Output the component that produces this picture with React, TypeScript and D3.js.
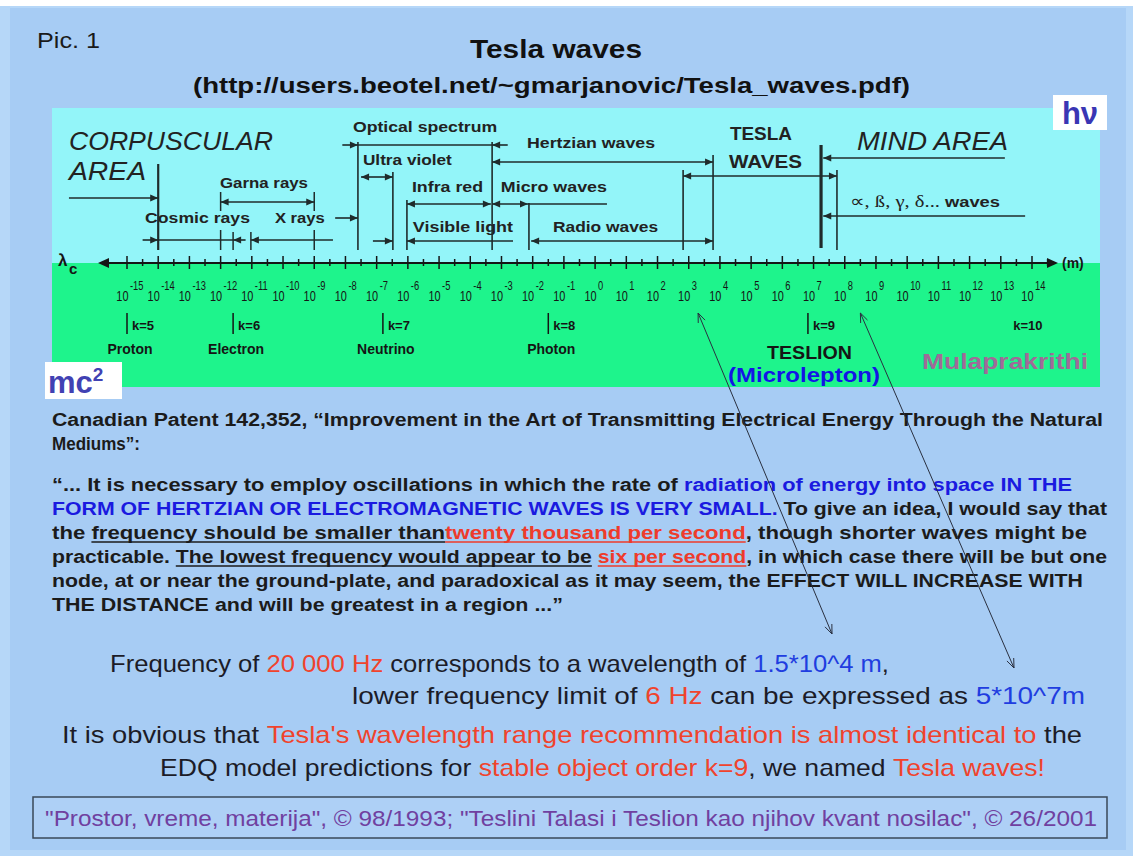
import React from 'react';
import * as d3 from 'd3';

const W = 1133;
const H = 856;
const FONT = 'Liberation Sans';
const SANS = 'Liberation Sans, Arial, Helvetica, sans-serif';
const SERIF = 'Liberation Serif, Times New Roman, serif';

// ---- data: wavelength axis (decades of metres) ----
const DECADES = d3.range(-15, 15); // 10^-15 ... 10^14
const HALF_TICKS = d3.range(-14.5, 14.6, 1);

// stable object orders k along the axis (decade position)
const K_MARKERS = [
  { k: 'k=5', d: -15, name: 'Proton', bar: true },
  { k: 'k=6', d: -11.6, name: 'Electron', bar: true },
  { k: 'k=7', d: -6.8, name: 'Neutrino', bar: true },
  { k: 'k=8', d: -1.5, name: 'Photon', bar: true },
  { k: 'k=9', d: 6.82, name: '', bar: true },
  { k: 'k=10', d: 13.4, name: '', bar: false },
];

// dimension segments: [fromDecade, toDecade, row y, arrow at from, arrow at to]
const SEGMENTS: [number, number, number, boolean, boolean][] = [
  [-16.86, -14, 198, false, true], // corpuscular area
  [-12, -9, 202, true, true], // gamma rays
  [-14.5, -14, 240, false, true],
  [-14, -11.6, 240, false, false], // cosmic rays
  [-11.6, -11.2, 240, true, false],
  [-11.03, -8.4, 240, true, false], // x rays
  [-8.33, -7.6, 218, false, true],
  [-8.1, -7.6, 145, false, true], // optical spectrum
  [-7.6, -3.3, 145, false, false],
  [-3.3, -2.8, 145, true, false],
  [-3.3, 3.78, 162, true, true], // hertzian waves
  [-7.5, -6.48, 177, true, true], // ultra violet
  [2.82, 7.75, 176, true, true], // tesla waves
  [-6.03, -3.34, 204, true, true], // infra red
  [-3.3, -2.15, 204, true, true], // micro waves
  [-2.15, 0.38, 204, false, false],
  [-7.12, -6.48, 241, false, true], // visible light
  [-6.03, -2.63, 241, true, false],
  [-2.05, 3.78, 241, true, true], // radio waves
  [7.31, 13.13, 158, true, false], // mind area
  [7.31, 13.78, 216, true, false], // alpha.. waves
];

// vertical boundaries: [decade, y1, y2, width]
const BOUNDARIES: [number, number, number, number][] = [
  [-14, 164, 250, 2.2],
  [-12, 192, 211, 1.5],
  [-9, 192, 211, 1.5],
  [-12, 230, 250, 1.5],
  [-11.6, 232, 250, 1.5],
  [-11.03, 232, 250, 1.5],
  [-9, 230, 250, 1.5],
  [-7.6, 142, 250, 1.6],
  [-6.48, 172, 250, 1.6],
  [-6.03, 200, 250, 1.6],
  [-3.3, 142, 250, 1.6],
  [-2.12, 203, 250, 1.6],
  [2.82, 170, 250, 1.6],
  [3.78, 155, 250, 1.6],
  [7.24, 145, 248, 3.2],
  [7.75, 170, 250, 1.6],
];

// band labels: [text, fromDecade, toDecade, baseline y, size]
const BAND_LABELS: [string, number, number, number, number][] = [
  ['Garna rays', -12.02, -9.2, 188, 15],
  ['Cosmic rays', -14.42, -11.06, 223, 15],
  ['X rays', -10.26, -8.66, 223, 15],
  ['Optical spectrum', -7.76, -3.14, 132, 15],
  ['Ultra violet', -7.44, -4.59, 165, 15],
  ['Infra red', -5.87, -3.59, 192, 15],
  ['Micro waves', -3.02, 0.38, 192, 15],
  ['Visible light', -5.84, -2.63, 232, 15],
  ['Radio waves', -1.35, 2.02, 232, 15],
  ['Hertzian waves', -2.18, 1.92, 148, 15],
  ['TESLA', 4.32, 6.31, 140, 19],
  ['WAVES', 4.29, 6.63, 168, 19],
];

// long pointer lines from text to axis: [axis decade, end x, end y]
const POINTERS: [number, number, number][] = [
  [3.3, 832, 634],
  [8.5, 1014, 668],
];

type Seg = [string, string];
type Line = { y: number; x1: number; x2: number; segs: Seg[] };

const PARAGRAPH: Line[] = [
  { y: 426, x1: 52, x2: 1103, segs: [['Canadian Patent 142,352, \u201cImprovement in the Art of Transmitting Electrical Energy Through the Natural', 'k']] },
  { y: 450, x1: 52, x2: 140, segs: [['Mediums\u201d:', 'k']] },
  { y: 491, x1: 52, x2: 1072, segs: [['\u201c... It is necessary to employ oscillations in which the rate of ', 'k'], ['radiation of energy into space IN THE', 'b']] },
  { y: 515, x1: 52, x2: 1107, segs: [['FORM OF HERTZIAN OR ELECTROMAGNETIC WAVES IS VERY SMALL.', 'b'], [' To give an idea, I would say that', 'k']] },
  { y: 539, x1: 52, x2: 1087, segs: [['the ', 'k'], ['frequency should be smaller than', 'kU'], ['twenty thousand per second', 'rU'], [', though shorter waves might be', 'k']] },
  { y: 563, x1: 52, x2: 1107, segs: [['practicable. ', 'k'], ['The lowest frequency would appear to be', 'kU'], [' ', 'k'], ['six per second', 'rU'], [', in which case there will be but one', 'k']] },
  { y: 587, x1: 52, x2: 1083, segs: [['node, at or near the ground-plate, and paradoxical as it may seem, the EFFECT WILL INCREASE WITH', 'k']] },
  { y: 611, x1: 52, x2: 563, segs: [['THE DISTANCE and will be greatest in a region ...\u201d', 'k']] },
];

const CONCLUSION: Line[] = [
  { y: 672, x1: 110, x2: 889, segs: [['Frequency of ', 'k'], ['20 000 Hz', 'r'], [' corresponds to a wavelength of ', 'k'], ['1.5*10^4 m', 'b'], [',', 'k']] },
  { y: 704, x1: 352, x2: 1085, segs: [['lower frequency limit of ', 'k'], ['6 Hz', 'r'], [' can be expressed as ', 'k'], ['5*10^7m', 'b']] },
  { y: 743, x1: 62, x2: 1082, segs: [['It is obvious that ', 'k'], ["Tesla's wavelength range recommendation is almost identical to", 'r'], [' the', 'k']] },
  { y: 776, x1: 160, x2: 1045, segs: [['EDQ model predictions for ', 'k'], ['stable object order k=9', 'r'], [', we named ', 'k'], ['Tesla waves!', 'r']] },
];

const COLORS: Record<string, string> = { k: '#1b1b1b', b: '#1a1ae0', r: '#ee3b2b' };
const CONC_COLORS: Record<string, string> = { k: '#1c1c28', b: '#1f3de0', r: '#f0432d' };

const x = d3.scaleLinear().domain([-15, 14]).range([127, 1032]);

const AXIS_Y = 263;
const INK = '#1f2b2b';

let _ctx: CanvasRenderingContext2D | null = null;
function measure(text: string, font: string) {
  if (!_ctx) _ctx = document.createElement('canvas').getContext('2d');
  if (!_ctx) return text.length * 8;
  _ctx.font = font;
  return _ctx.measureText(text).width;
}

function head(tip: number, y: number, dir: number, size = 8, half = 3.6) {
  return `M${tip},${y}L${tip - dir * size},${y - half}L${tip - dir * size},${y + half}Z`;
}

function Txt(props: {
  x1: number; x2: number; y: number; t: string; size: number;
  weight?: string; fill?: string; italic?: boolean; family?: string; ul?: boolean;
}) {
  const { x1, x2, y, t, size, weight = 'bold', fill = '#1b1b1b', italic = false, family = SANS, ul = false } = props;
  return (
    <g>
      <text
        x={x1}
        y={y}
        textLength={x2 - x1}
        lengthAdjust="spacingAndGlyphs"
        fontSize={size}
        fontWeight={weight}
        fontStyle={italic ? 'italic' : 'normal'}
        fill={fill}
        fontFamily={family}
      >
        {t}
      </text>
      {ul && <line x1={x1} x2={x2} y1={y + 3} y2={y + 3} stroke={fill} strokeWidth={1.3} />}
    </g>
  );
}

function FlowLine(props: { line: Line; size: number; weight: string; colors: Record<string, string>; id: string }) {
  const { line, size, weight, colors, id } = props;
  const font = `${weight} ${size}px "${FONT}"`;
  const full = line.segs.map((s) => s[0]).join('');
  const k = (line.x2 - line.x1) / measure(full, font);
  let prefix = '';
  const out: React.ReactNode[] = [];
  line.segs.forEach(([t, st], j) => {
    const lead = t.length - t.trimStart().length;
    const core = t.trim();
    if (core.length) {
      const sx = line.x1 + measure(prefix + t.slice(0, lead), font) * k;
      const w = measure(core, font) * k;
      out.push(
        <Txt key={id + j} x1={sx} x2={sx + w} y={line.y} t={core} size={size} weight={weight} fill={colors[st[0]]} ul={st.length > 1} />
      );
    }
    prefix += t;
  });
  return <g>{out}</g>;
}

function openHead(tx: number, ty: number, fx: number, fy: number) {
  const a = Math.atan2(ty - fy, tx - fx);
  const L = 10, s = 0.38;
  const p1 = [tx - L * Math.cos(a - s), ty - L * Math.sin(a - s)];
  const p2 = [tx - L * Math.cos(a + s), ty - L * Math.sin(a + s)];
  return `M${p1[0]},${p1[1]}L${tx},${ty}L${p2[0]},${p2[1]}`;
}

export default function App() {
  return (
    <svg
      width={W}
      height={H}
      viewBox={`0 0 ${W} ${H}`}
      style={{ position: 'absolute', left: 0, top: 0, display: 'block' }}
    >
      {/* page background */}
      <rect x={0} y={0} width={W} height={H} fill="#ffffff" />
      <rect x={0} y={6} width={W} height={H - 6} fill="#b6d7f8" />
      <rect x={10} y={8} width={1116} height={842} fill="#a7ccf4" />

      {/* header */}
      <Txt x1={37} x2={100} y={48} t="Pic. 1" size={22} weight="normal" fill="#1a1a1a" />
      <Txt x1={470} x2={642} y={58} t="Tesla waves" size={25} fill="#111" />
      <Txt x1={193} x2={910} y={93} t="(http://users.beotel.net/~gmarjanovic/Tesla_waves.pdf)" size={22} fill="#111" />

      {/* diagram backgrounds */}
      <rect x={52} y={108} width={1048} height={155} fill="#93f5f9" />
      <rect x={52} y={263} width={1048} height={124} fill="#1ef48c" />

      {/* hv box */}
      <rect x={1053} y={95} width={54} height={35} fill="#ffffff" />
      <text x={1080} y={124} textAnchor="middle" fontFamily={SANS} fontSize={31} fontWeight="bold" fill="#3a36b4">h{'\u03bd'}</text>

      {/* mc2 box */}
      <rect x={45} y={362} width={77} height={37} fill="#ffffff" />
      <text x={48} y={393} fontFamily={SANS} fontSize={31} fontWeight="bold" fill="#4141b3">
        mc<tspan fontSize={19} dy={-12}>2</tspan>
      </text>

      {/* area titles */}
      <Txt x1={69} x2={273} y={150} t="CORPUSCULAR" size={25} weight="normal" italic fill="#222" />
      <Txt x1={69} x2={146} y={180} t="AREA" size={25} weight="normal" italic fill="#222" />
      <Txt x1={857} x2={1008} y={150} t="MIND AREA" size={25} weight="normal" italic fill="#222" />
      <Txt x1={850} x2={940} y={207} t={'\u221d, \u00df, \u03b3, \u03b4...'} size={17} weight="normal" family={SERIF} fill="#222" />
      <Txt x1={945} x2={1000} y={207} t="waves" size={14} fill="#222" />

      {/* band labels */}
      {BAND_LABELS.map(([t, d1, d2, y, s], i) => (
        <Txt key={i} x1={x(d1)} x2={x(d2)} y={y} t={t} size={s} fill="#222" />
      ))}

      {/* boundaries */}
      {BOUNDARIES.map(([d, y1, y2, w], i) => (
        <line key={i} x1={x(d)} x2={x(d)} y1={y1} y2={y2} stroke={INK} strokeWidth={w} />
      ))}

      {/* dimension segments */}
      {SEGMENTS.map(([d1, d2, y, hf, ht], i) => (
        <g key={i}>
          <line x1={x(d1)} x2={x(d2)} y1={y} y2={y} stroke={INK} strokeWidth={1.6} />
          {hf && <path d={head(x(d1), y, -1)} fill={INK} />}
          {ht && <path d={head(x(d2), y, 1)} fill={INK} />}
        </g>
      ))}

      {/* axis */}
      <line x1={100} x2={1056} y1={AXIS_Y} y2={AXIS_Y} stroke="#151515" strokeWidth={2} />
      <path d={head(98, AXIS_Y, -1, 11, 5)} fill="#151515" />
      <path d={head(1058, AXIS_Y, 1, 11, 5)} fill="#151515" />
      {DECADES.map((d) => (
        <line key={'M' + d} x1={x(d)} x2={x(d)} y1={AXIS_Y - 7} y2={AXIS_Y + 6} stroke="#151515" strokeWidth={1.5} />
      ))}
      {HALF_TICKS.map((d) => (
        <line key={'m' + d} x1={x(d)} x2={x(d)} y1={AXIS_Y - 4} y2={AXIS_Y + 3} stroke="#151515" strokeWidth={1.5} />
      ))}
      {DECADES.map((d) => (
        <g key={'L' + d} fontFamily={SANS} fill="#151515">
          <text transform={`translate(${x(d) + 1.5},301) scale(0.78,1)`} textAnchor="end" fontSize={14}>10</text>
          <text transform={`translate(${x(d) + 3},290) scale(0.78,1)`} fontSize={12}>{d}</text>
        </g>
      ))}
      <text x={58} y={266} fontFamily={SANS} fontSize={17} fontWeight="bold" fill="#151515">{'\u03bb'}</text>
      <text x={69} y={274} fontFamily={SANS} fontSize={15} fontWeight="bold" fill="#151515">c</text>
      <text x={1062} y={268} fontFamily={SANS} fontSize={14} fontWeight="bold" fill="#151515">(m)</text>

      {/* k markers */}
      {K_MARKERS.map((m) => (
        <g key={m.k}>
          {m.bar && <line x1={x(m.d)} x2={x(m.d)} y1={313} y2={334} stroke="#151515" strokeWidth={1.5} />}
          <text x={x(m.d) + (m.bar ? 5 : 0)} y={330} fontFamily={SANS} fontSize={13} fontWeight="bold" fill="#151515">{m.k}</text>
          {m.name && (
            <text x={x(m.d) + 3} y={354} textAnchor="middle" fontFamily={SANS} fontSize={14} fontWeight="bold" fill="#151515">{m.name}</text>
          )}
        </g>
      ))}
      <Txt x1={767} x2={852} y={359} t="TESLION" size={18} fill="#151515" />
      <Txt x1={728} x2={880} y={382} t="(Microlepton)" size={21} fill="#1414e6" />
      <Txt x1={922} x2={1088} y={369} t="Mulaprakrithi" size={22} fill="#a06a98" />

      {/* paragraph */}
      {PARAGRAPH.map((line, i) => (
        <FlowLine key={'p' + i} id={'p' + i + '-'} line={line} size={18} weight="bold" colors={COLORS} />
      ))}

      {/* conclusion */}
      {CONCLUSION.map((line, i) => (
        <FlowLine key={'c' + i} id={'c' + i + '-'} line={line} size={24} weight="normal" colors={CONC_COLORS} />
      ))}

      {/* pointer lines */}
      {POINTERS.map(([d, ex, ey], i) => {
        const sx = x(d);
        const sy = 313;
        return (
          <g key={'ptr' + i} stroke="#2a3040" strokeWidth={1} fill="none">
            <line x1={sx} y1={sy} x2={ex} y2={ey} />
            <path d={openHead(sx, sy, ex, ey)} />
            <path d={openHead(ex, ey, sx, sy)} />
          </g>
        );
      })}

      {/* footer */}
      <rect x={33} y={797} width={1074} height={41} fill="#aed0f6" stroke="#3a4858" strokeWidth={1.5} />
      <Txt
        x1={45}
        x2={1097}
        y={826}
        t={'"Prostor, vreme, materija", \u00a9 98/1993; "Teslini Talasi i Teslion kao njihov kvant nosilac", \u00a9 26/2001'}
        size={22}
        weight="normal"
        fill="#7040a0"
      />
    </svg>
  );
}
